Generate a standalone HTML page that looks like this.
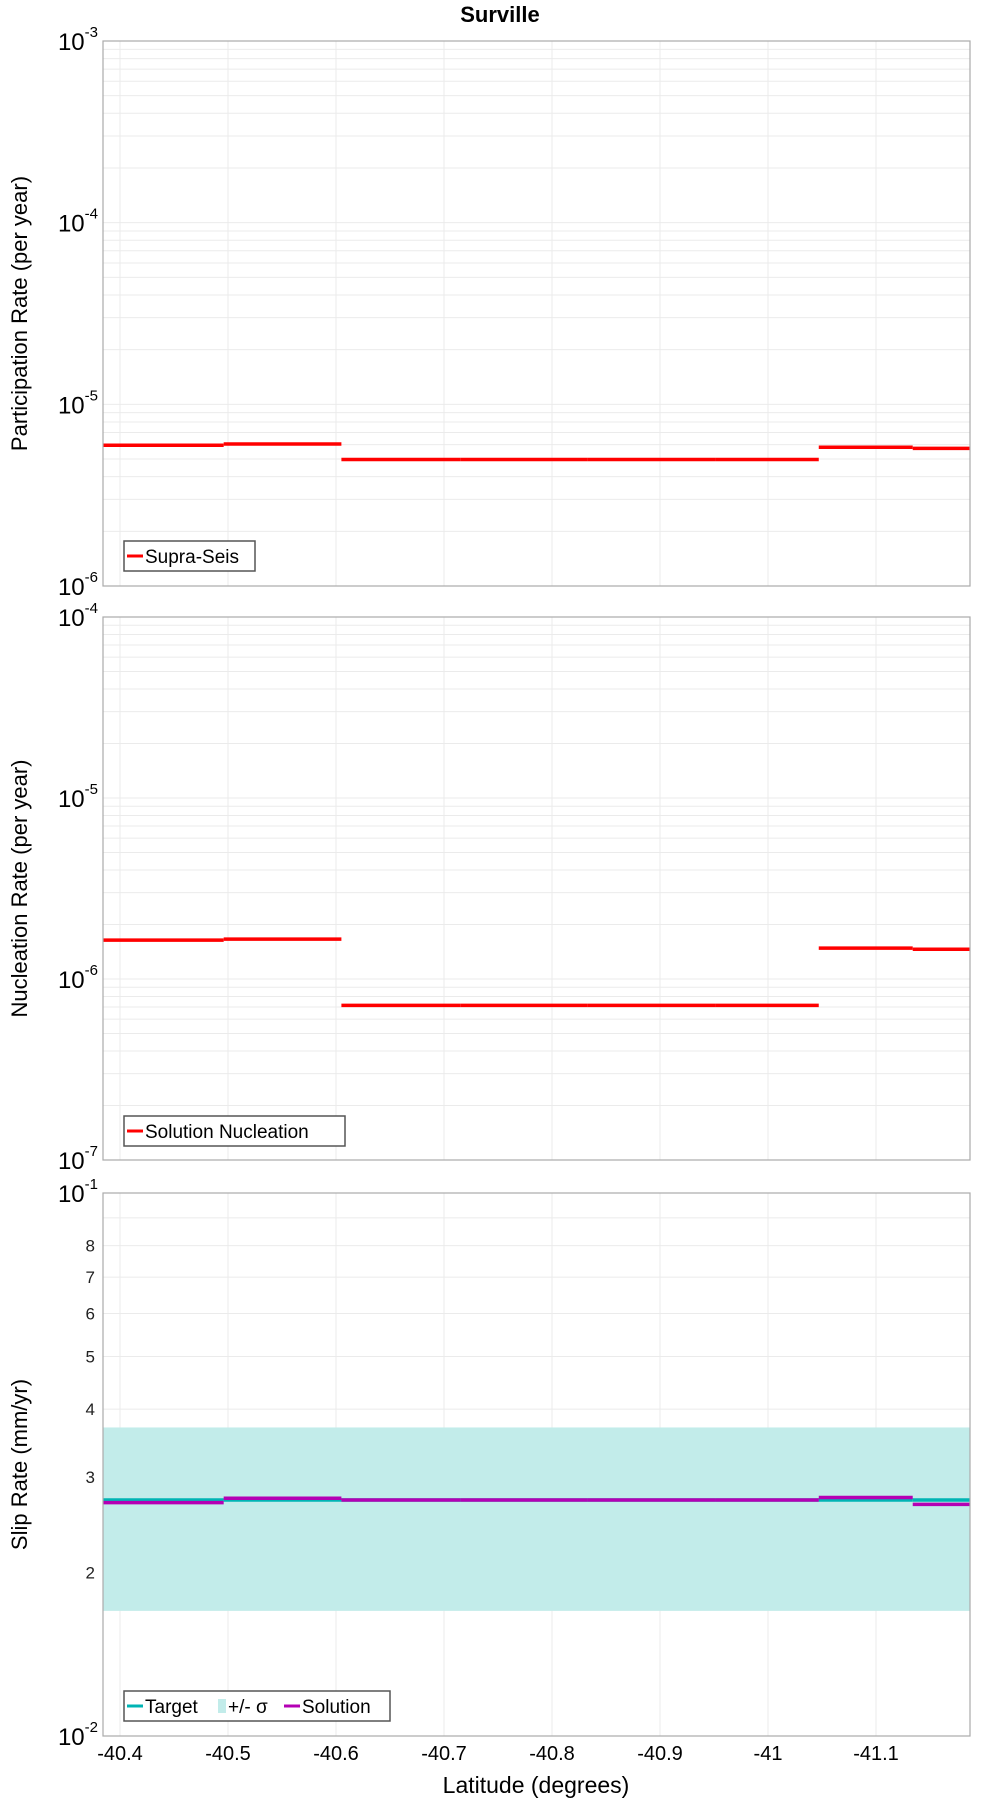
<!DOCTYPE html>
<html><head><meta charset="utf-8"><style>
html,body{margin:0;padding:0;background:#fff}
svg{display:block;font-family:"Liberation Sans","DejaVu Sans",sans-serif}
</style></head><body>
<svg id="chart" width="1000" height="1800" viewBox="0 0 1000 1800" xmlns="http://www.w3.org/2000/svg"></svg>
<script>
const latTicks = [-40.4,-40.5,-40.6,-40.7,-40.8,-40.9,-41,-41.1];
const latTickLabels = ["-40.4","-40.5","-40.6","-40.7","-40.8","-40.9","-41","-41.1"];
const bounds = [-40.384,-40.496,-40.605,-40.715,-40.833,-40.951,-41.047,-41.134,-41.187];
const partRates = [5.95e-6,6.05e-6,4.97e-6,4.97e-6,4.97e-6,4.97e-6,5.8e-6,5.72e-6];
const nuclRates = [1.64e-6,1.66e-6,0.715e-6,0.715e-6,0.715e-6,0.715e-6,1.48e-6,1.46e-6];
const targetSlip = [2.72e-2,2.72e-2,2.72e-2,2.72e-2,2.72e-2,2.72e-2,2.72e-2,2.72e-2];
const solutionSlip = [2.69e-2,2.74e-2,2.72e-2,2.72e-2,2.72e-2,2.72e-2,2.75e-2,2.67e-2];
const sigmaLow = 1.70e-2, sigmaHigh = 3.7e-2;
const slipTickVals = [2,3,4,5,6,7,8];

const svg = document.getElementById('chart');
const NS = 'http://www.w3.org/2000/svg';
const L = 103, R = 970;
function xs(lat){ return 120 + (-40.4 - lat) * 1080; }
function mk(tag, attrs, parent){ const e=document.createElementNS(NS,tag); for(const k in attrs) e.setAttribute(k,attrs[k]); (parent||svg).appendChild(e); return e; }

function logScale(top,bottom,minExp,maxExp){ return v => bottom - (Math.log10(v)-minExp)/(maxExp-minExp)*(bottom-top); }

function panel(name, top, bottom, minExp, maxExp, title){
  const ys = logScale(top,bottom,minExp,maxExp);
  const g = mk('g',{});
  
  
  // grid
  for(let e=minExp;e<maxExp;e++){ for(let m=1;m<10;m++){ const y=ys(m*Math.pow(10,e)); const ln=mk('line',{x1:L,x2:R,y1:y,y2:y,stroke:'#ebebeb','stroke-width':1},g);
    
     } }
  latTicks.forEach(t=>{ const x=xs(t); const ln=mk('line',{x1:x,x2:x,y1:top,y2:bottom,stroke:'#ebebeb','stroke-width':1},g);
    
     });
  // decade labels
  for(let e=minExp;e<=maxExp;e++){ const y=ys(Math.pow(10,e)); const t=mk('text',{x:L-5,y:y+9,'text-anchor':'end','font-size':24,fill:'#000'},g);
    
    
    t.textContent='10'; const s=mk('tspan',{dy:-13,'font-size':15},t); s.textContent=String(e); }
  const yt = mk('text',{x:0,y:0,transform:`translate(27,${(top+bottom)/2}) rotate(-90)`,'text-anchor':'middle','font-size':22,fill:'#000'},g);
  
  
  yt.textContent = title;
  return {g, ys};
}
function frame(g,top,bottom){ const r=mk('rect',{x:L,y:top,width:R-L,height:bottom-top,fill:'none',stroke:'#aaaaaa','stroke-width':1.2},g);
  
   }
function steps(g, ys, vals, color, name, w){
  vals.forEach((v,i)=>{ const y=ys(v); const ln=mk('line',{x1:xs(bounds[i]),x2:xs(bounds[i+1]),y1:y,y2:y,stroke:color,'stroke-width':w||3.5},g);
    
     });
}
function legend(g, x, y, w, items){
  const box=mk('rect',{x:x,y:y,width:w,height:30,fill:'#fff',stroke:'#555','stroke-width':1.5},g);
  
  
  let cx=x+3;
  items.forEach(it=>{
    if(it.band){ const r=mk('rect',{x:cx,y:y+8,width:8,height:14,fill:it.color},g);
      
       cx+=10; }
    else { const ln=mk('line',{x1:cx,x2:cx+16,y1:y+15,y2:y+15,stroke:it.color,'stroke-width':3},g);
      
       cx+=18; }
    const t=mk('text',{x:cx,y:y+22,'font-size':19,fill:'#000'},g);
    
    
    t.textContent=it.label; cx+=it.w;
  });
}
// title
const title=mk('text',{x:500,y:22,'text-anchor':'middle','font-size':22,'font-weight':'bold',fill:'#000'});


title.textContent='Surville';

// Panel 1
const p1=panel('participation-panel',41,586,-6,-3,'Participation Rate (per year)');
steps(p1.g,p1.ys,partRates,'#ff0000','participation-step');
frame(p1.g,41,586);
legend(p1.g,124,541,131,[{label:'Supra-Seis',color:'#ff0000',w:110}]);

// Panel 2
const p2=panel('nucleation-panel',617,1160,-7,-4,'Nucleation Rate (per year)');
steps(p2.g,p2.ys,nuclRates,'#ff0000','nucleation-step');
frame(p2.g,617,1160);
legend(p2.g,124,1116,221,[{label:'Solution Nucleation',color:'#ff0000',w:200}]);

// Panel 3
const p3=panel('slip-rate-panel',1193,1736,-2,-1,'Slip Rate (mm/yr)');
const band=mk('rect',{x:L,y:p3.ys(sigmaHigh),width:R-L,height:p3.ys(sigmaLow)-p3.ys(sigmaHigh),fill:'#c2ecea'},p3.g);


slipTickVals.forEach(v=>{ const t=mk('text',{x:L-8,y:p3.ys(v/100)+6,'text-anchor':'end','font-size':17,fill:'#222'},p3.g);
  
  
  t.textContent=String(v); });
steps(p3.g,p3.ys,targetSlip,'#00b4b4','target-step',3.5);
steps(p3.g,p3.ys,solutionSlip,'#b400b4','solution-step',3.5);
frame(p3.g,1193,1736);
legend(p3.g,124,1691,266,[{label:'Target',color:'#00b4b4',w:73},{label:'+/- σ',color:'#c2ecea',band:true,w:56},{label:'Solution',color:'#b400b4',w:90}]);

// x ticks
latTicks.forEach((t,i)=>{ const tx=mk('text',{x:xs(t),y:1760,'text-anchor':'middle','font-size':20,fill:'#000'});
  
  
  tx.textContent=latTickLabels[i]; });
const xt=mk('text',{x:536,y:1793,'text-anchor':'middle','font-size':23,fill:'#000'});


xt.textContent='Latitude (degrees)';
</script>
</body></html>
